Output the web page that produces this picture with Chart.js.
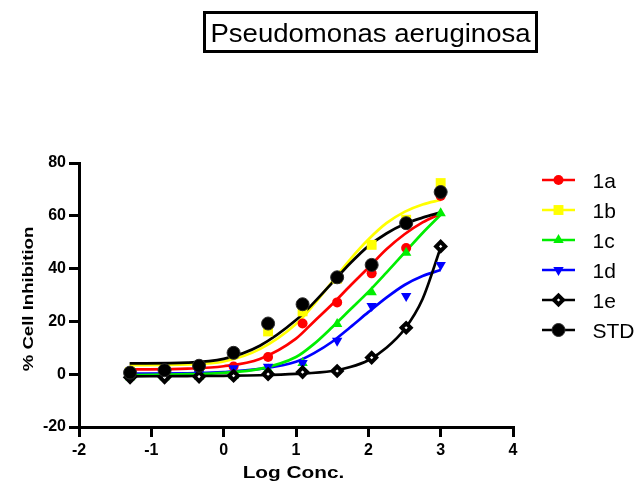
<!DOCTYPE html>
<html>
<head>
<meta charset="utf-8">
<script src="https://cdn.jsdelivr.net/npm/chart.js@4"></script>
<style>
  html, body { margin: 0; padding: 0; background: #fff; }
  canvas { display: block; }
</style>
</head>
<body>
<canvas id="c" width="639" height="484"></canvas>
<script>
/* ── data ── */
var TITLE = 'Pseudomonas aeruginosa';
var X_TITLE = 'Log Conc.';
var Y_TITLE = '% Cell Inhibition';
var SERIES = ['1a', '1b', '1c', '1d', '1e', 'STD'];

// measured points (log concentration)
var LOG_CONC = [-1.294, -0.817, -0.340, 0.137, 0.614, 1.091, 1.569, 2.046, 2.523, 3.0];
var Y_1A  = [0.5, 1.2, 2.4, 2.9, 6.5, 19.2, 27.2, 38.2, 47.8, 67.5];
var Y_1B  = [0.8, 1.6, 3.0, 7.8, 16.2, 23.8, 36.2, 49.0, 58.5, 72.4];
var Y_1C  = [-1.2, -1.2, -0.9, -0.6, 1.8, 4.2, 19.0, 31.0, 46.0, 61.0];
var Y_1D  = [-0.4, -0.3, 0.1, 2.3, 2.8, 4.2, 12.7, 25.8, 29.6, 41.4];
var Y_1E  = [-1.2, -1.2, -0.9, -0.6, 0.0, 0.8, 1.2, 6.3, 17.6, 48.4];
var Y_STD = [0.6, 1.5, 3.2, 8.1, 19.2, 26.5, 36.7, 41.4, 57.2, 69.0];

// fitted curves
var FIT_X    = [-1.3, -0.5, 0, 0.5, 1, 1.25, 1.5, 1.75, 2, 2.25, 2.5, 2.75, 3];
var FIT_1A   = [1.8, 2.1, 3.0, 5.8, 13.5, 20.0, 26.5, 33.5, 40.3, 47.3, 53.0, 57.5, 60.8];
var FIT_1B   = [3.4, 3.7, 4.8, 9.5, 19.0, 26.5, 35.0, 43.5, 51.0, 57.2, 61.5, 64.3, 66.0];
var FIT_1C   = [-0.3, 0.0, 0.5, 2.0, 6.5, 11.5, 17.8, 24.5, 31.2, 38.5, 46.0, 53.5, 60.4];
var FIT_1D   = [0.2, 0.3, 0.8, 2.0, 4.7, 8.0, 12.3, 17.8, 23.5, 29.0, 33.8, 37.2, 39.5];
var FIT_STD  = [4.1, 4.4, 5.8, 10.8, 20.5, 27.2, 34.6, 42.0, 48.5, 53.3, 56.9, 59.3, 61.3];
var FIT_X_1E = [-1.3, -0.5, 0, 0.5, 1, 1.5, 1.75, 2, 2.25, 2.5, 2.75, 3];
var FIT_1E   = [-0.8, -0.7, -0.6, -0.4, 0.1, 1.2, 2.7, 5.3, 10.0, 17.0, 28.5, 48.0];

var X_TICKS = [-2, 4, 1];     // min, max, step
var Y_TICKS = [-20, 80, 20];

var FONT = 'Arial, "Liberation Sans", sans-serif';

function pairs(xs, ys) {
  return xs.map(function (x, i) { return { x: x, y: ys[i] }; });
}

/* ── styles per series ── */
var STY = {
  '1a':  { color: '#ff0000', fill: '#ff0000', style: 'circle',   r: 5,   rot: 0,   bw: 0 },
  '1b':  { color: '#ffff00', fill: '#ffff00', style: 'rect',     r: 7,   rot: 0,   bw: 0 },
  '1c':  { color: '#00ee00', fill: '#00ee00', style: 'triangle', r: 6,   rot: 0,   bw: 0 },
  '1d':  { color: '#0000ff', fill: '#0000ff', style: 'triangle', r: 6,   rot: 180, bw: 0 },
  '1e':  { color: '#000000', fill: '#ffffff', style: 'rectRot',  r: 4.5, rot: 0,   bw: 4 },
  'STD': { color: '#000000', fill: '#000000', style: 'circle',   r: 6.5, rot: 0,   bw: 1 }
};
var POINTS = { '1a': Y_1A, '1b': Y_1B, '1c': Y_1C, '1d': Y_1D, '1e': Y_1E, 'STD': Y_STD };
var FITS = {
  '1a': [FIT_X, FIT_1A], '1b': [FIT_X, FIT_1B], '1c': [FIT_X, FIT_1C],
  '1d': [FIT_X, FIT_1D], '1e': [FIT_X_1E, FIT_1E], 'STD': [FIT_X, FIT_STD]
};
var POINT_ORDER = { 'STD': 0, '1e': 1, '1d': 2, '1c': 3, '1a': 4, '1b': 5 };
var LINE_ORDER  = { 'STD': 6, '1e': 7, '1a': 8, '1c': 9, '1d': 10, '1b': 11 };

var datasets = [];
SERIES.forEach(function (k) {
  var s = STY[k];
  datasets.push({
    label: k,
    data: pairs(LOG_CONC, POINTS[k]),
    showLine: false,
    pointStyle: s.style,
    pointRadius: s.r,
    pointRotation: s.rot,
    pointBackgroundColor: s.fill,
    pointBorderColor: k === 'STD' ? '#2a2a2a' : s.color,
    pointBorderWidth: s.bw,
    order: POINT_ORDER[k]
  });
});
SERIES.forEach(function (k) {
  var s = STY[k];
  datasets.push({
    label: k + ' fit',
    data: pairs(FITS[k][0], FITS[k][1]),
    showLine: true,
    pointRadius: 0,
    borderColor: s.color,
    borderWidth: 2.7,
    cubicInterpolationMode: 'monotone',
    fill: false,
    order: LINE_ORDER[k]
  });
});

/* ── stretched text helper ── */
function drawText(ctx, txt, x, y, font, sx, rot, align) {
  ctx.save();
  ctx.translate(x, y);
  if (rot) ctx.rotate(rot);
  ctx.scale(sx, 1);
  ctx.font = font;
  ctx.fillStyle = '#000';
  ctx.textAlign = align || 'center';
  ctx.textBaseline = 'alphabetic';
  ctx.fillText(txt, 0, 0);
  ctx.restore();
}

/* ── title box, axis titles, legend ── */
var decorPlugin = {
  id: 'decor',
  afterDraw: function (chart) {
    var ctx = chart.ctx;
    // title box
    ctx.save();
    ctx.lineWidth = 3;
    ctx.strokeStyle = '#000';
    ctx.strokeRect(204.5, 12.5, 332, 39);
    ctx.restore();
    drawText(ctx, TITLE, 370.5, 41.5, '26px ' + FONT, 1.06);

    // axis titles
    drawText(ctx, X_TITLE, 293.5, 478, 'bold 16px ' + FONT, 1.3);
    drawText(ctx, Y_TITLE, 33, 299, 'bold 15px ' + FONT, 1.24, -Math.PI / 2);

    // legend
    SERIES.forEach(function (k, i) {
      var s = STY[k];
      var y = 180 + i * 30;
      ctx.save();
      ctx.strokeStyle = s.color;
      ctx.lineWidth = 2.7;
      ctx.beginPath(); ctx.moveTo(542, y); ctx.lineTo(575, y); ctx.stroke();
      ctx.fillStyle = s.fill;
      ctx.strokeStyle = k === 'STD' ? '#2a2a2a' : s.color;
      ctx.lineWidth = s.bw;
      Chart.helpers.drawPoint(ctx, { pointStyle: s.style, radius: s.r, rotation: s.rot, borderWidth: s.bw }, 558.5, y);
      ctx.restore();
      drawText(ctx, k, 592.5, y + 7.5, '21px ' + FONT, 1, 0, 'left');
    });
  }
};

var axisStyle = {
  grid: { display: true, drawOnChartArea: false, drawTicks: true, tickLength: 10, lineWidth: 3, color: '#000' },
  border: { display: true, width: 3, color: '#000' }
};

new Chart(document.getElementById('c'), {
  type: 'scatter',
  data: { datasets: datasets },
  plugins: [decorPlugin],
  options: {
    responsive: false,
    animation: false,
    devicePixelRatio: 1,
    layout: { padding: { top: 163, right: 126, bottom: 0, left: 0 } },
    plugins: { legend: { display: false }, tooltip: { enabled: false }, title: { display: false } },
    scales: {
      x: {
        type: 'linear', min: X_TICKS[0], max: X_TICKS[1],
        ticks: { stepSize: X_TICKS[2], color: '#000', padding: 4, font: { family: FONT, size: 16, weight: 'bold' } },
        grid: axisStyle.grid, border: axisStyle.border,
        afterFit: function (s) { s.height = 57; }
      },
      y: {
        type: 'linear', min: Y_TICKS[0], max: Y_TICKS[1],
        ticks: { stepSize: Y_TICKS[2], color: '#000', padding: 3, font: { family: FONT, size: 16, weight: 'bold' } },
        grid: axisStyle.grid, border: axisStyle.border,
        afterFit: function (s) { s.width = 79; }
      }
    }
  }
});
</script>
</body>
</html>
